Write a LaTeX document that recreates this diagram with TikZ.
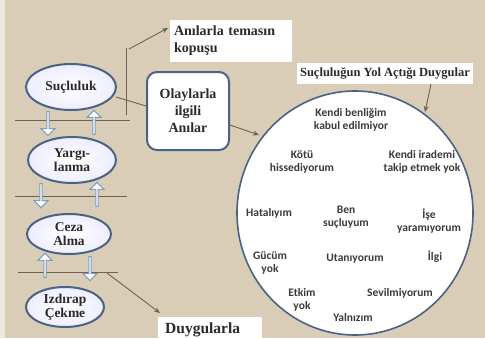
\documentclass[tikz,border=0pt]{standalone}
\usepackage{fontspec}
\setmainfont{Liberation Serif}
\newfontfamily\calib{Carlito}
\usetikzlibrary{shapes.arrows,shapes.geometric,arrows.meta}
\definecolor{bg}{HTML}{D9CDB7}
\definecolor{strip}{HTML}{EDE8DF}
\definecolor{edge}{HTML}{4A6384}
\definecolor{conn}{HTML}{6E6252}
\definecolor{hollow}{HTML}{7C9CC4}
\definecolor{ink}{HTML}{2A2A2A}
\definecolor{soft}{HTML}{3A3A3A}
\tikzset{
  oval/.style={ellipse, draw=edge, line width=2pt, inner color=white, outer color=blue!7!white,
    inner sep=0pt, align=center, text=ink, font=\bfseries\fontsize{13.5}{14.5}\selectfont},
  blockarrow/.style={single arrow, draw=hollow, fill=white, line width=1pt, inner sep=0pt,
    minimum height=24pt, minimum width=14pt, single arrow head extend=2.5pt},
  sepline/.style={draw=conn, line width=0.8pt},
  conline/.style={draw=conn, line width=0.9pt},
  conarrow/.style={draw=conn, line width=0.9pt, -{Stealth[length=6pt,width=5pt]}},
  label/.style={fill=white, inner sep=0pt, text=ink, font=\bfseries\fontsize{14}{17}\selectfont},
  feel/.style={align=center, text=soft, font=\calib\bfseries\fontsize{11.5}{13}\selectfont},
}
\begin{document}
\begin{tikzpicture}[x=1pt,y=-1pt]
\useasboundingbox (0,0) rectangle (485,338);
\begin{scope}
\clip (0,0) rectangle (485,338);
\fill[bg] (0,0) rectangle (485,338);
\fill[strip] (0,0) rectangle (5,338);

% left column
\node[oval, minimum width=90pt, minimum height=46pt] (suc) at (71,87) {Suçluluk};
\node[oval, minimum width=88pt, minimum height=46pt] (yar) at (72,160) {Yargı-\\lanma};
\node[oval, minimum width=84pt, minimum height=40pt] (ceza) at (69,234) {Ceza\\Alma};
\node[oval, minimum width=78pt, minimum height=40pt] (izd) at (65,307) {Izdırap\\Çekme};

% separator lines
\coordinate (l1a) at (15,120); \coordinate (l1b) at (130,120);
\coordinate (l2a) at (15,196); \coordinate (l2b) at (127,196);
\coordinate (l3a) at (18,272); \coordinate (l3b) at (118,272);
\coordinate (vt) at (126,48); \coordinate (vb) at (126,115);
\draw[sepline] (l1a) -- (l1b);
\draw[sepline] (l2a) -- (l2b);
\draw[sepline] (l3a) -- (l3b);
\draw[sepline] (vt) -- (vb);

% block arrows
\node[blockarrow, shape border rotate=270] (d1) at (48,123) {};
\node[blockarrow, shape border rotate=90] (u1) at (94,123) {};
\node[blockarrow, shape border rotate=270] (d2) at (41,195) {};
\node[blockarrow, shape border rotate=90] (u2) at (97,195) {};
\node[blockarrow, shape border rotate=90] (u3) at (45,266) {};
\node[blockarrow, shape border rotate=270] (d3) at (90,268) {};

% boxes
\node[label, minimum width=122pt, minimum height=42pt, align=left, text width=114pt] (anil) at (231,41)
  {Anılarla temasın\\kopuşu};
\node[draw=edge, line width=2pt, rounded corners=10pt, fill=white, minimum width=82pt, minimum height=78pt,
  align=center, text=ink, font=\bfseries\fontsize{14}{17}\selectfont, inner sep=0pt] (ola) at (188,111)
  {Olaylarla\\ilgili\\Anılar};
\node[label, minimum width=176pt, minimum height=21pt, font=\bfseries\fontsize{12.5}{13}\selectfont] (yol) at (385,73)
  {Suçluluğun Yol Açtığı Duygular};
\node[label, minimum width=104pt, minimum height=30pt, anchor=north west] (duy) at (158,317) {};
\node[text=ink, font=\bfseries\fontsize{15.5}{16}\selectfont, inner sep=0pt, anchor=west] (duyt) at (165,330) {Duygularla};

% circle
\node[ellipse, draw=edge, line width=1.6pt, fill=white, minimum width=236pt, minimum height=244pt, inner sep=0pt] (circ) at (355,213) {};

% feelings
\node[feel] (f1) at (351,120) {Kendi benliğim\\kabul edilmiyor};
\node[feel] (f2) at (302,162) {Kötü\\hissediyorum};
\node[feel] (f3) at (422,162) {Kendi irademi\\takip etmek yok};
\node[feel] (f4) at (269,213) {Hatalıyım};
\node[feel] (f5) at (346,217) {Ben\\suçluyum};
\node[feel] (f6) at (429,221) {İşe\\yaramıyorum};
\node[feel] (f7) at (270,263) {Gücüm\\yok};
\node[feel] (f8) at (355,259) {Utanıyorum};
\node[feel] (f9) at (435,257) {İlgi};
\node[feel] (f10) at (302,300) {Etkim\\yok};
\node[feel] (f11) at (400,293) {Sevilmiyorum};
\node[feel] (f12) at (353,318) {Yalnızım};

% connectors
\coordinate (ast) at (129,49);
\coordinate (aen) at (168,28);
\draw[conarrow] (ast) -- (aen);
\coordinate (sa) at (116,97);
\draw[conline] (sa) -- (ola.west |- 0,106);
\coordinate (ct) at (259,135);
\draw[conarrow] (ola.east |- 0,125) -- (ct);
\coordinate (ys) at (431,84);
\coordinate (ye) at (425,112);
\draw[conarrow] (ys) -- (ye);
\coordinate (ds) at (107,273);
\coordinate (de) at (160,313);
\draw[conarrow] (ds) -- (de);
\end{scope}
\end{tikzpicture}
\end{document}
